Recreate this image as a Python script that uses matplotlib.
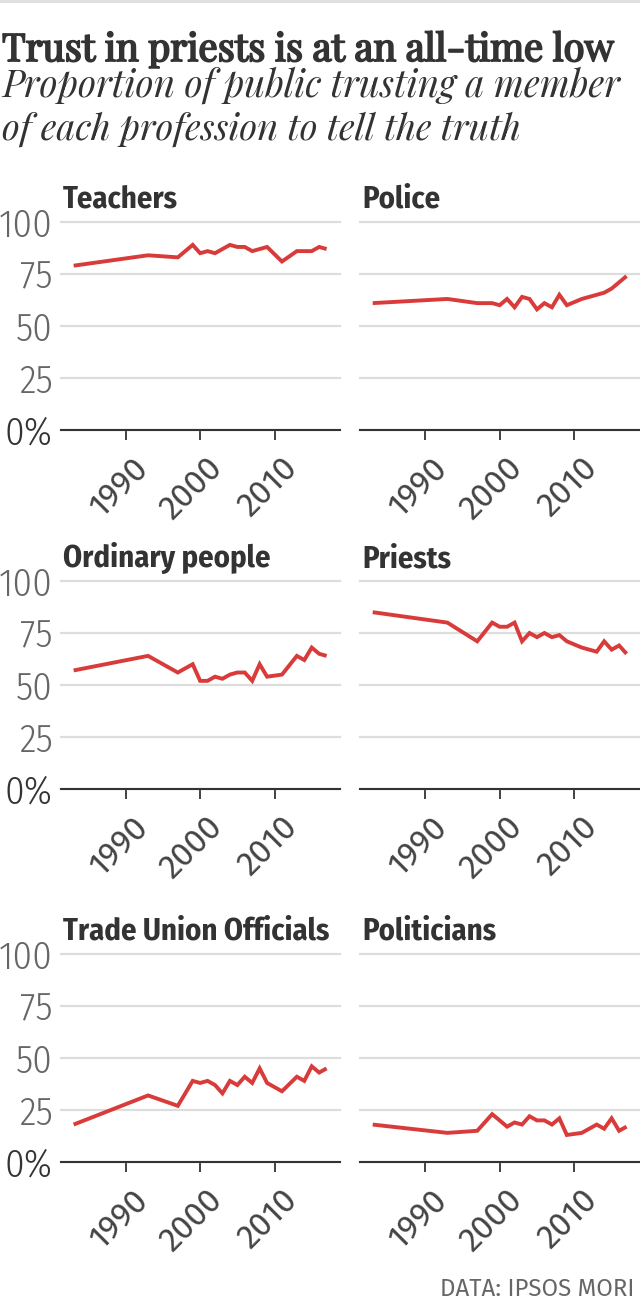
import matplotlib
matplotlib.use("Agg")
import matplotlib.pyplot as plt
from matplotlib.transforms import ScaledTranslation
from matplotlib import patheffects

# ---------------- data ----------------
years = [1983, 1993, 1997, 1999, 2000, 2001, 2002, 2003, 2004, 2005,
         2006, 2007, 2008, 2009, 2011, 2013, 2014, 2015, 2016, 2017]
teachers = [79, 84, 83, 89, 85, 86, 85, 87, 89, 88, 88, 86, 87, 88, 81, 86, 86, 86, 88, 87]
police = [61, 63, 61, 61, 60, 63, 59, 64, 63, 58, 61, 59, 65, 60, 63, 65, 66, 68, 71, 74]
ordinary = [57, 64, 56, 60, 52, 52, 54, 53, 55, 56, 56, 52, 60, 54, 55, 64, 62, 68, 65, 64]
priests = [85, 80, 71, 80, 78, 78, 80, 71, 75, 73, 75, 73, 74, 71, 68, 66, 71, 67, 69, 65]
unions = [18, 32, 27, 39, 38, 39, 37, 33, 39, 37, 41, 38, 45, 38, 34, 41, 39, 46, 43, 45]
politicians = [18, 14, 15, 23, 20, 17, 19, 18, 22, 20, 20, 18, 21, 13, 14, 18, 16, 21, 15, 17]

panel_titles = ["Teachers", "Police", "Ordinary people", "Priests",
                "Trade Union Officials", "Politicians"]
panel_series = [teachers, police, ordinary, priests, unions, politicians]
y_ticks = [0, 25, 50, 75, 100]
y_labels = ["0%", "25", "50", "75", "100"]
x_ticks = [1990, 2000, 2010]
x_labels = ["1990", "2000", "2010"]

title = "Trust in priests is at an all-time low"
subtitle1 = "Proportion of public trusting a member"
subtitle2 = "of each profession to tell the truth"
source = "DATA: IPSOS MORI"

# ---------------- style ----------------
W, H = 640, 1306
SANS = ["Fira Sans Condensed", "Roboto Condensed", "DejaVu Sans"]
SANS_WIDE = ["Fira Sans", "DejaVu Sans"]
SERIF = ["Playfair Display", "DejaVu Serif"]
RED = "#d93b3b"
DARK = "#333333"
GRAY = "#666666"
GRID = "#dddddd"

fig = plt.figure(figsize=(W / 100, H / 100), dpi=100)
fig.patch.set_facecolor("white")


def fx(px):
    return px / W


def fy(py):
    return 1 - py / H


renderer = fig.canvas.get_renderer()


def fit_text(x, y, s, target_w, fs, ha="left", **kw):
    t = fig.text(fx(x), fy(y), s, fontsize=fs, va="baseline", ha=ha, **kw)
    w = t.get_window_extent(renderer).width
    t.set_fontsize(fs * target_w / w)
    return t


# top rule
fig.add_artist(plt.Line2D([0, 1], [fy(1.2), fy(1.2)], color="#e0e0e0", lw=2.2,
                          transform=fig.transFigure))

t = fit_text(2, 61, title, 612, 28, family=SERIF, color=DARK)
t.set_path_effects([patheffects.withStroke(linewidth=1.4, foreground=DARK)])
fit_text(2, 97, subtitle1, 618, 24, family=SERIF, style="italic", color=DARK)
fit_text(2, 140, subtitle2, 519, 24, family=SERIF, style="italic", color=DARK)

fit_text(634, 1296, source, 195, 14, ha="right", family=SANS_WIDE, color=GRAY)

rows = [(222, 430), (581, 789), (954, 1162)]
cols = [(61, 340), (360, 640)]

for i, (name, vals) in enumerate(zip(panel_titles, panel_series)):
    r, c = divmod(i, 2)
    top, bot = rows[r]
    left, right = cols[c]
    ax = fig.add_axes([fx(left), fy(bot), fx(right - left), (bot - top) / H])
    ax.set_xlim(1981.3, 2018.8)
    ax.set_ylim(0, 100)
    ax.plot(years, vals, color=RED, lw=2.8, solid_joinstyle="miter",
            solid_capstyle="butt", zorder=4, clip_on=False)

    ax.set_yticks(y_ticks)
    if c == 0:
        ax.set_yticklabels(y_labels)
        for lab in ax.get_yticklabels():
            lab.set_fontfamily(SANS)
            lab.set_fontsize(28)
            lab.set_fontweight(300)
            lab.set_color(DARK if lab.get_text() == "0%" else GRAY)
    else:
        ax.set_yticklabels([])
    ax.tick_params(axis="y", length=0, pad=6)
    ax.grid(axis="y", color=GRID, lw=1.6, zorder=0)
    for gl in ax.get_ygridlines():
        gl.set_clip_on(False)

    ax.set_xticks(x_ticks)
    ax.set_xticklabels(x_labels, rotation=45, ha="right", va="top",
                       rotation_mode="anchor")
    ax.tick_params(axis="x", direction="out", length=7.2, width=1.3,
                   color=DARK, pad=8.0, labelsize=24, labelcolor="#444444")
    for lab in ax.get_xticklabels():
        lab.set_fontfamily(SANS_WIDE)
        lab.set_fontweight(400)
        lab.set_transform(lab.get_transform() +
                          ScaledTranslation(6 / 100, 0, fig.dpi_scale_trans))

    for s in ("left", "right", "top"):
        ax.spines[s].set_visible(False)
    ax.spines["bottom"].set_color(DARK)
    ax.spines["bottom"].set_linewidth(1.5)
    ax.spines["bottom"].set_zorder(5)
    ax.set_facecolor("none")

    fig.text(fx(left + 2), fy(top - 14), name, fontsize=22, family=SANS,
             weight="bold", color=DARK, ha="left", va="baseline")

fig.savefig("out.png", dpi=100, facecolor="white")
